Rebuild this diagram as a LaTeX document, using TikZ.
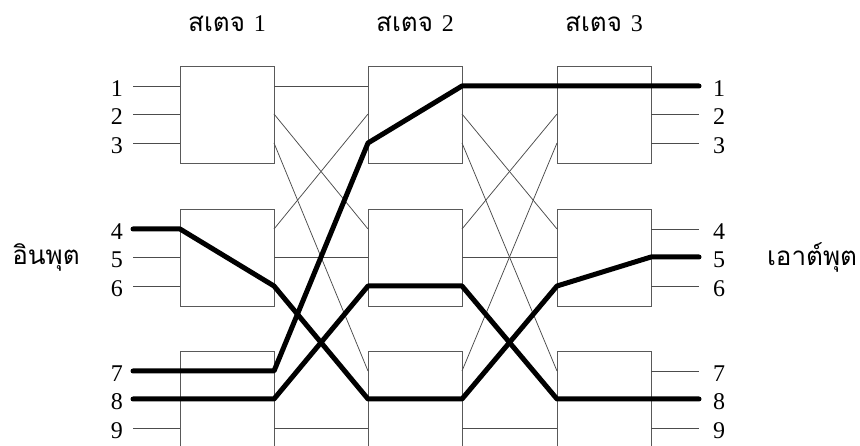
\documentclass[tikz,border=0pt]{standalone}
\usepackage{fontspec}
\setmainfont{Liberation Serif}
\newfontfamily\thaifont[Script=Thai]{Loma}
\begin{document}
\begin{tikzpicture}[x=1pt,y=-1pt,
  sw/.style={draw=black!65,line width=0.9pt,fill=none,inner sep=0pt,outer sep=0pt,
    minimum width=94pt,minimum height=97pt,anchor=north west},
  thinline/.style={draw=black!70,line width=0.75pt},
  thickline/.style={draw=black,line width=5pt,line cap=round,line join=round},
  num/.style={font=\fontsize{24}{24}\selectfont,inner sep=0pt},
  ttl/.style={font=\fontsize{26}{28}\selectfont\thaifont,inner sep=0pt}]
\useasboundingbox (0,0) rectangle (860,446);
% switches and their ports
\foreach \s/\x in {1/180,2/368,3/557}{
  \foreach \r/\y in {1/66,2/209,3/351}{
    \node[sw] (s\s\r) at (\x,\y) {};
    \foreach \p/\d in {1/20,2/48,3/77}{
      \coordinate (s\s\r i\p) at (\x,\y+\d);
      \coordinate (s\s\r o\p) at (\x+94,\y+\d);
    }
  }
}
% inputs and outputs
\foreach \r/\y in {1/66,2/209,3/351}{
  \foreach \p/\d in {1/20,2/48,3/77}{
    \pgfmathtruncatemacro{\k}{3*(\r-1)+\p}
    \coordinate (in\k) at (133,\y+\d);
    \coordinate (out\k) at (699,\y+\d);
    \node[num,anchor=east] (li\k) at (123,\y+\d+3) {\k};
    \node[num,anchor=west] (lo\k) at (713,\y+\d+3) {\k};
    \draw[thinline] (in\k) -- (s1\r i\p);
    \draw[thinline] (s3\r o\p) -- (out\k);
  }
}
% interstage links
\foreach \i in {1,2,3}{
  \foreach \j in {1,2,3}{
    \draw[thinline] (s1\i o\j) -- (s2\j i\i);
    \draw[thinline] (s2\i o\j) -- (s3\j i\i);
  }
}
% highlighted paths
\draw[thickline] (in4) -- (s12i1) -- (s12o3) -- (s23i2) -- (s23o2) -- (s32i3) -- (s32o2) -- (out5);
\draw[thickline] (in7) -- (s13i1) -- (s13o1) -- (s21i3) -- (s21o1) -- (s31i1) -- (s31o1) -- (out1);
\draw[thickline] (in8) -- (s13i2) -- (s13o2) -- (s22i3) -- (s22o3) -- (s33i2) -- (s33o2) -- (out8);
% titles
\node[ttl] (t1) at (227,24) {สเตจ {\fontspec{Liberation Serif}\fontsize{24}{24}\selectfont 1}};
\node[ttl] (t2) at (415,24) {สเตจ {\fontspec{Liberation Serif}\fontsize{24}{24}\selectfont 2}};
\node[ttl] (t3) at (604,24) {สเตจ {\fontspec{Liberation Serif}\fontsize{24}{24}\selectfont 3}};
\node[ttl] (tin) at (46,257) {อินพุต};
\node[ttl] (tout) at (812,257) {เอาต์พุต};
\end{tikzpicture}
\end{document}
